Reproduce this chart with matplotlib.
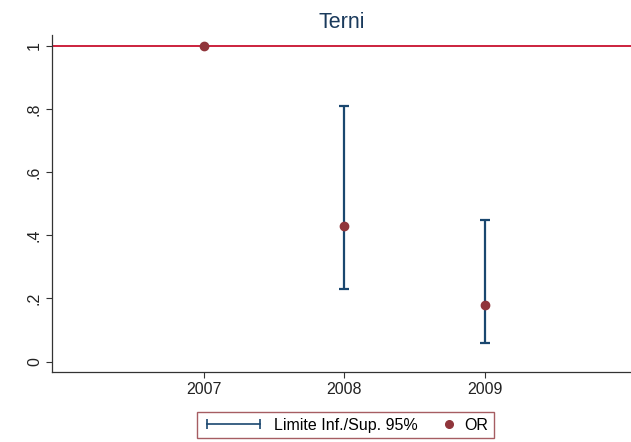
import numpy as np
import matplotlib
matplotlib.use("Agg")
import matplotlib.pyplot as plt
from matplotlib.lines import Line2D
from matplotlib.legend_handler import HandlerLine2D

plt.rcParams['font.family'] = ['Liberation Sans', 'DejaVu Sans']

years = [2007, 2008, 2009]
odds_ratio = [1.0, 0.43, 0.18]
ci_low = [np.nan, 0.23, 0.06]
ci_high = [np.nan, 0.81, 0.45]
ytick_vals = [0, 0.2, 0.4, 0.6, 0.8, 1]
ytick_labels = ['0', '.2', '.4', '.6', '.8', '1']

navy = '#1a476f'
maroon = '#90353b'
red = '#c8102e'


class RightDot(HandlerLine2D):
    # put the dot at the right end of the handle box, like Stata does
    def get_xdata(self, legend, xdescent, ydescent, width, height, fontsize):
        x = -xdescent + width - 4
        return np.array([x, x]), np.array([x])


fig = plt.figure(figsize=(6.31, 4.42), dpi=100)
ax = fig.add_axes([0.083, 0.159, 0.917, 0.762])

orr = np.array(odds_ratio)
lo = np.array(ci_low)
hi = np.array(ci_high)
yerr = np.vstack([orr - lo, hi - orr])
ax.errorbar(years, odds_ratio, yerr=yerr, fmt='none', ecolor=navy,
            elinewidth=1.6, capsize=3.5, capthick=1.6, zorder=2)
ax.axhline(1, color=red, lw=1.3, zorder=1)
ax.plot(years, odds_ratio, 'o', color=maroon, ms=6, zorder=3)

ax.set_xlim(2005.92, 2010.04)
ax.set_ylim(-0.032, 1.035)
ax.set_xticks(years)
ax.set_xticklabels([str(y) for y in years], fontsize=11.5)
ax.set_yticks(ytick_vals)
ax.set_yticklabels(ytick_labels, fontsize=11.5, rotation=90, va='center')

for s in ['top', 'right']:
    ax.spines[s].set_visible(False)
for s in ['left', 'bottom']:
    ax.spines[s].set_color('#333333')
    ax.spines[s].set_linewidth(0.9)
ax.tick_params(colors='#333333', length=4, width=0.8, labelcolor='#222222')

ax.set_title('Terni', fontsize=15.5, color='#1a3a5c', pad=5)

ci_handle = Line2D([], [], color=navy, lw=1.2, marker='|', ms=7, mew=1.2)
or_handle = Line2D([], [], color=maroon, ls='none', marker='o', ms=5.5)
leg = fig.legend([ci_handle, or_handle], ['Limite Inf./Sup. 95%', 'OR'],
                 loc='center', bbox_to_anchor=(0.547, 0.038), ncol=2,
                 fontsize=11.5, fancybox=False, handlelength=3.9,
                 handletextpad=0.6, columnspacing=-1.6, borderpad=0.35,
                 borderaxespad=0.3,
                 handler_map={ci_handle: HandlerLine2D(numpoints=2),
                              or_handle: RightDot(numpoints=1)})
leg.get_frame().set_edgecolor(maroon)
leg.get_frame().set_linewidth(1.0)

fig.savefig('out.png', dpi=100)
